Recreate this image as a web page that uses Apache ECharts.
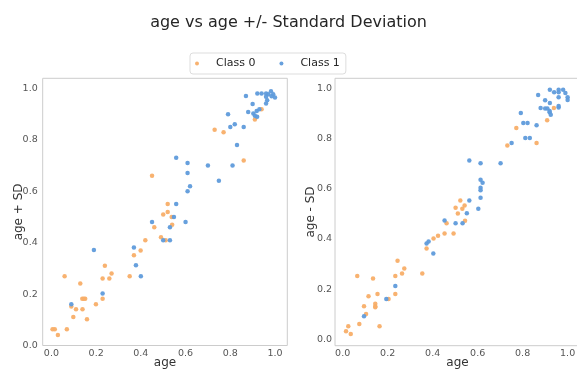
<!DOCTYPE html>
<html>
<head>
<meta charset="utf-8">
<script src="https://cdn.jsdelivr.net/npm/echarts@6/dist/echarts.min.js"></script>
<style>
  html, body { margin: 0; padding: 0; background: #fff; }
  #chart { width: 577px; height: 370px; }
</style>
</head>
<body>
<div id="chart"></div>
<script>
// [age, age + SD] for each class
const plusClass0 = [
  [0.005,0.063],[0.015,0.063],[0.029,0.041],[0.059,0.27],[0.069,0.063],[0.089,0.152],
  [0.098,0.111],[0.11,0.141],[0.129,0.241],[0.138,0.182],[0.145,0.182],[0.151,0.182],
  [0.139,0.141],[0.159,0.102],[0.199,0.161],[0.229,0.182],[0.229,0.261],[0.239,0.31],
  [0.259,0.261],[0.269,0.28],[0.35,0.27],[0.369,0.351],[0.399,0.37],[0.42,0.41],
  [0.45,0.661],[0.46,0.46],[0.49,0.421],[0.50,0.51],[0.511,0.41],[0.52,0.52],
  [0.52,0.551],[0.538,0.50],[0.54,0.47],[0.73,0.84],[0.77,0.83],[0.86,0.72],
  [0.91,0.88],[0.94,0.92]
];
const plusClass1 = [
  [0.089,0.161],[0.19,0.372],[0.229,0.202],[0.369,0.381],[0.378,0.312],[0.40,0.27],
  [0.45,0.481],[0.50,0.41],[0.53,0.41],[0.53,0.46],[0.548,0.50],[0.558,0.551],
  [0.558,0.731],[0.60,0.481],[0.609,0.71],[0.609,0.671],[0.62,0.62],[0.609,0.60],
  [0.70,0.701],[0.749,0.641],[0.81,0.701],[0.83,0.78],[0.79,0.90],[0.80,0.85],
  [0.82,0.861],[0.86,0.85],[0.87,0.971],[0.88,0.909],[0.90,0.94],[0.921,0.981],
  [0.94,0.981],[0.903,0.903],[0.91,0.894],[0.918,0.913],[0.93,0.92],[0.92,0.89],
  [0.96,0.942],[0.96,0.981],[0.97,0.978],[0.982,0.99],[0.992,0.978],[1.0,0.965],
  [0.96,0.968],[0.965,0.955],[0.985,0.97]
];
// [age, age - SD] for each class
const minusClass0 = [
  [0.015,0.032],[0.025,0.052],[0.036,0.021],[0.065,0.252],[0.074,0.061],[0.095,0.132],
  [0.104,0.101],[0.115,0.172],[0.135,0.242],[0.145,0.142],[0.145,0.132],[0.145,0.128],
  [0.155,0.181],[0.164,0.052],[0.204,0.161],[0.234,0.181],[0.234,0.252],[0.244,0.313],
  [0.264,0.262],[0.274,0.282],[0.354,0.262],[0.373,0.362],[0.404,0.402],[0.424,0.413],
  [0.453,0.422],[0.462,0.462],[0.493,0.422],[0.502,0.524],[0.512,0.501],[0.523,0.553],
  [0.532,0.52],[0.542,0.533],[0.544,0.472],[0.732,0.772],[0.772,0.842],[0.862,0.782],
  [0.909,0.873],[0.939,0.922]
];
const minusClass1 = [
  [0.095,0.092],[0.194,0.161],[0.234,0.212],[0.373,0.382],[0.382,0.39],[0.403,0.342],
  [0.453,0.473],[0.502,0.462],[0.533,0.462],[0.552,0.502],[0.603,0.52],[0.563,0.712],
  [0.563,0.553],[0.613,0.702],[0.613,0.636],[0.622,0.624],[0.613,0.604],[0.613,0.594],
  [0.613,0.564],[0.702,0.702],[0.751,0.782],[0.812,0.802],[0.832,0.802],[0.792,0.902],
  [0.803,0.862],[0.822,0.862],[0.862,0.853],[0.869,0.973],[0.88,0.922],[0.90,0.953],
  [0.921,0.942],[0.90,0.92],[0.91,0.92],[0.92,0.905],[0.925,0.895],[0.92,0.91],
  [0.921,0.994],[0.94,0.984],[0.96,0.994],[0.96,0.984],[0.96,0.964],[0.96,0.924],
  [0.96,0.93],[0.98,0.994],[0.99,0.981],[1.0,0.964],[1.0,0.954]
];

const classNames = ['Class 0', 'Class 1'];
const titleText = 'age vs age +/- Standard Deviation';
const xName = 'age';
const yNames = ['age + SD', 'age - SD'];

const COLORS = ['#f8ae68', '#5f9bdb'];
const FONT = 'DejaVu Sans';

// Show labels only on multiples of 0.2
function tickFmt(v) {
  const k = Math.round(v / 0.2);
  if (Math.abs(v - k * 0.2) > 1e-6 || v < -1e-6) return '';
  return (k * 0.2).toFixed(1);
}

function xAxisFor(gridIndex, min, max) {
  return {
    gridIndex, type: 'value', min, max, splitNumber: 5,
    name: xName, nameLocation: 'middle', nameGap: 11, nameMoveOverlap: false,
    nameTextStyle: { fontFamily: FONT, fontSize: 12, color: '#333' },
    axisLine: { show: false }, axisTick: { show: false }, splitLine: { show: false },
    axisLabel: { fontFamily: FONT, fontSize: 9.5, color: '#555', margin: 3,
      showMinLabel: false, showMaxLabel: false, formatter: tickFmt }
  };
}
function yAxisFor(gridIndex, min, max, name, margin) {
  return {
    gridIndex, type: 'value', min, max, splitNumber: 5,
    name, nameLocation: 'middle', nameGap: 18, nameMoveOverlap: false,
    nameTextStyle: { fontFamily: FONT, fontSize: 12, color: '#333' },
    axisLine: { show: false }, axisTick: { show: false }, splitLine: { show: false },
    axisLabel: { fontFamily: FONT, fontSize: 9.5, color: '#555', margin,
      showMinLabel: min === 0, showMaxLabel: false, formatter: tickFmt }
  };
}
function scatter(name, xi, data, color) {
  return {
    type: 'scatter', name, xAxisIndex: xi, yAxisIndex: xi, data,
    symbol: 'circle', symbolSize: 4.5,
    itemStyle: { color, opacity: 0.95 },
    emphasis: { disabled: true }
  };
}

const chart = echarts.init(document.getElementById('chart'), null, { renderer: 'canvas' });
chart.setOption({
  animation: false,
  backgroundColor: '#fff',
  title: {
    text: titleText, left: 'center', top: 10,
    textStyle: { fontFamily: FONT, fontSize: 16, fontWeight: 'normal', color: '#262626' }
  },
  legend: {
    data: classNames, left: 190, top: 53, padding: [5, 6, 5, 5],
    icon: 'circle', itemWidth: 18, itemHeight: 4, itemGap: 24,
    textStyle: { fontFamily: FONT, fontSize: 11, color: '#262626', padding: [0, 0, 0, 5] },
    borderColor: '#dddddd', borderWidth: 1, borderRadius: 3,
    backgroundColor: '#fff'
  },
  grid: [
    { left: 42.7, top: 78.3, width: 244.6, height: 267.2, show: true,
      outerBoundsMode: 'none', containLabel: false,
      borderColor: '#cccccc', borderWidth: 1, backgroundColor: 'transparent' },
    { left: 335, top: 78.3, width: 245, height: 267.4, show: true,
      outerBoundsMode: 'none', containLabel: false,
      borderColor: '#cccccc', borderWidth: 1, backgroundColor: 'transparent' }
  ],
  xAxis: [ xAxisFor(0, -0.039, 1.055), xAxisFor(1, -0.034, 1.055) ],
  yAxis: [ yAxisFor(0, 0, 1.04, yNames[0], 5), yAxisFor(1, -0.0255, 1.04, yNames[1], 3) ],
  series: [
    scatter(classNames[0], 0, plusClass0, COLORS[0]),
    scatter(classNames[1], 0, plusClass1, COLORS[1]),
    scatter(classNames[0], 1, minusClass0, COLORS[0]),
    scatter(classNames[1], 1, minusClass1, COLORS[1])
  ]
});
</script>
</body>
</html>
